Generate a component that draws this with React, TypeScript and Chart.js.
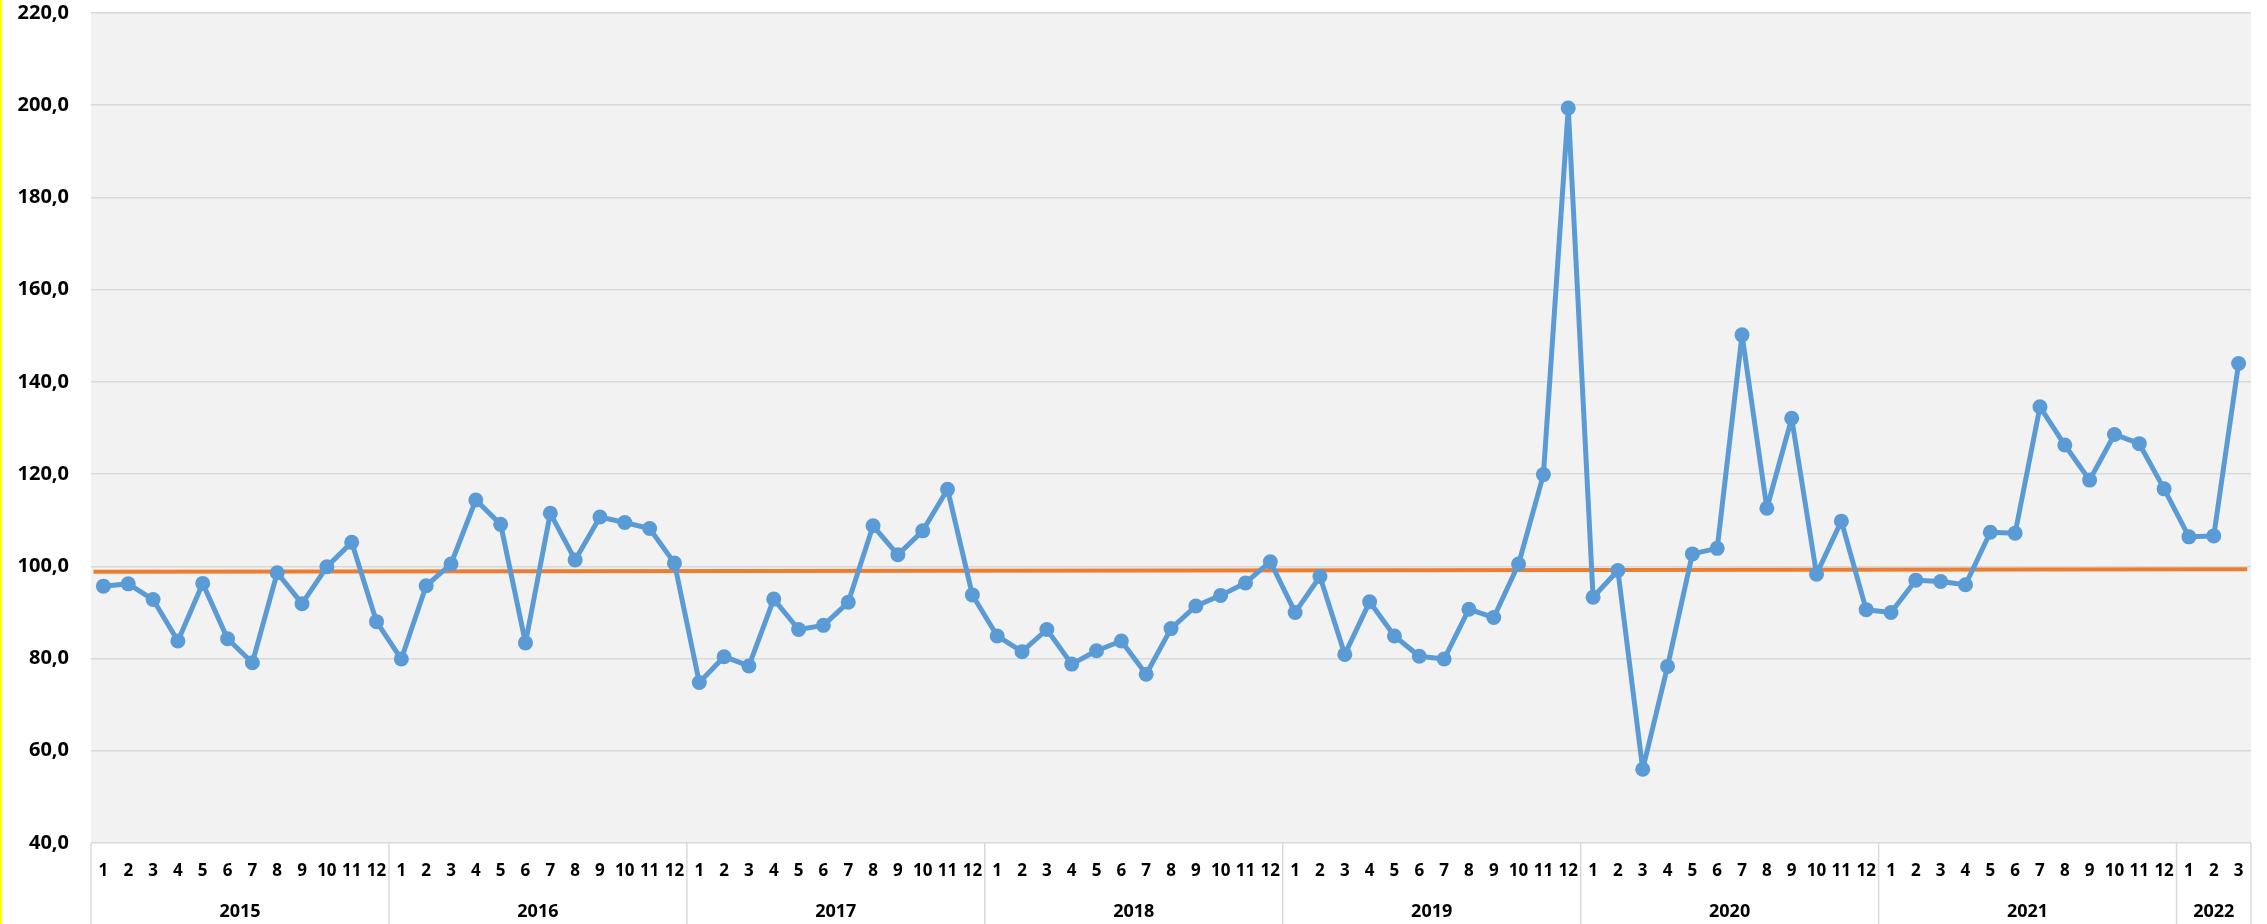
import React, { useEffect, useRef } from "react";
import { Chart, registerables } from "chart.js";

Chart.register(...registerables);

// ---- data ----
const years = ["2015", "2016", "2017", "2018", "2019", "2020", "2021", "2022"];
const monthsPerYear = [12, 12, 12, 12, 12, 12, 12, 3];
const monthLabels: string[] = monthsPerYear.flatMap((n) =>
  Array.from({ length: n }, (_, k) => String(k + 1))
);

const values2015 = [95.7, 96.2, 92.8, 83.8, 96.3, 84.3, 79.1, 98.6, 91.9, 99.9, 105.2, 88.0];
const values2016 = [79.9, 95.8, 100.5, 114.4, 109.1, 83.4, 111.5, 101.4, 110.7, 109.5, 108.2, 100.7];
const values2017 = [74.8, 80.4, 78.4, 92.9, 86.3, 87.2, 92.2, 108.8, 102.5, 107.7, 116.7, 93.8];
const values2018 = [84.9, 81.5, 86.3, 78.8, 81.7, 83.8, 76.6, 86.5, 91.4, 93.7, 96.4, 101.0];
const values2019 = [90.0, 97.8, 80.9, 92.3, 84.9, 80.5, 79.9, 90.7, 88.9, 100.5, 119.9, 199.4];
const values2020 = [93.3, 99.1, 56.0, 78.3, 102.7, 103.9, 150.2, 112.6, 132.1, 98.3, 109.8, 90.6];
const values2021 = [90.0, 97.0, 96.7, 96.0, 107.4, 107.2, 134.6, 126.3, 118.7, 128.6, 126.6, 116.8];
const values2022 = [106.4, 106.6, 144.0];

const seriesValues = [
  ...values2015, ...values2016, ...values2017, ...values2018,
  ...values2019, ...values2020, ...values2021, ...values2022,
];

// linear trend line (start / end) in category-index units
const trendX = [-0.4, 86.35];
const trendY = [98.8, 99.35];

const yMin = 40;
const yMax = 220;
const yStep = 20;

const FONT = "'Open Sans', Lato, 'DejaVu Sans', sans-serif";

export default function App() {
  const canvasRef = useRef<HTMLCanvasElement | null>(null);

  useEffect(() => {
    const canvas = canvasRef.current;
    if (!canvas) return;

    const bgPlugin = {
      id: "plotBg",
      beforeDraw(chart: any) {
        const { ctx, chartArea } = chart;
        ctx.save();
        ctx.fillStyle = "#FFFFFF";
        ctx.fillRect(0, 0, chart.width, chart.height);
        ctx.fillStyle = "#F2F2F2";
        ctx.fillRect(chartArea.left, chartArea.top, chartArea.right - chartArea.left, chartArea.bottom - chartArea.top);
        ctx.restore();
      },
    };

    const xLabelPlugin = {
      id: "xLabels",
      afterDraw(chart: any) {
        const { ctx, chartArea } = chart;
        const xs = chart.scales.x;
        const bottom = chartArea.bottom;
        const h = chart.height;
        ctx.save();
        ctx.strokeStyle = "#D9D9D9";
        ctx.lineWidth = 1.5;
        const bounds: number[] = [xs.left];
        let idx = 0;
        monthsPerYear.forEach((n, k) => {
          idx += n;
          if (k < monthsPerYear.length - 1) {
            bounds.push((xs.getPixelForValue(idx - 1) + xs.getPixelForValue(idx)) / 2);
          }
        });
        bounds.push(xs.right);
        bounds.forEach((bx) => {
          ctx.beginPath();
          ctx.moveTo(bx, bottom);
          ctx.lineTo(bx, h);
          ctx.stroke();
        });
        ctx.fillStyle = "#000000";
        ctx.textAlign = "center";
        ctx.textBaseline = "middle";
        ctx.font = `bold 17px ${FONT}`;
        monthLabels.forEach((l, i) => {
          ctx.fillText(l, xs.getPixelForValue(i), bottom + 28);
        });
        ctx.font = `bold 18px ${FONT}`;
        years.forEach((y, k) => {
          const cx = (bounds[k] + bounds[k + 1]) / 2;
          ctx.fillText(y, cx, bottom + 69);
        });
        ctx.restore();
      },
    };

    const chart = new Chart(canvas, {
      type: "line",
      data: {
        labels: monthLabels,
        datasets: [
          {
            label: "Index",
            data: seriesValues,
            borderColor: "#5B9BD5",
            backgroundColor: "#5B9BD5",
            pointBackgroundColor: "#5B9BD5",
            pointBorderColor: "#5B9BD5",
            pointBorderWidth: 0,
            pointRadius: 7.5,
            borderWidth: 5,
            borderJoinStyle: "round",
            borderCapStyle: "round",
            tension: 0,
            xAxisID: "x",
            clip: false as any,
          },
          {
            label: "Trend",
            data: trendX.map((x, i) => ({ x, y: trendY[i] })) as any,
            borderColor: "#ED7D31",
            backgroundColor: "#ED7D31",
            pointRadius: 0,
            borderWidth: 4,
            tension: 0,
            xAxisID: "xTrend",
          },
        ],
      },
      options: {
        animation: false,
        responsive: false,
        devicePixelRatio: 1,
        layout: { padding: { left: 0, right: 16, top: 13, bottom: 0 } },
        plugins: {
          legend: { display: false },
          tooltip: { enabled: false },
        },
        scales: {
          x: {
            type: "category",
            offset: true,
            ticks: { display: false },
            grid: { display: false, drawTicks: false },
            border: { display: false },
            afterFit(s: any) {
              s.height = 81;
            },
          },
          xTrend: {
            type: "linear",
            min: -0.5,
            max: monthLabels.length - 0.5,
            display: false,
          },
          y: {
            min: yMin,
            max: yMax,
            ticks: {
              stepSize: yStep,
              padding: 22,
              color: "#000000",
              font: { family: FONT, size: 20, weight: "bold" },
              callback: (v: any) => Number(v).toFixed(1).replace(".", ","),
            },
            grid: { color: "#D9D9D9", lineWidth: 1.5, drawTicks: false },
            border: { display: false },
            afterFit(s: any) {
              s.width = 91;
              s.paddingTop = 0;
              s.paddingBottom = 0;
            },
          },
        },
      } as any,
      plugins: [bgPlugin, xLabelPlugin],
    });

    return () => chart.destroy();
  }, []);

  return (
    <div style={{ position: "fixed", left: 0, top: 0, width: 2267, height: 924, background: "#FFFFFF" }}>
      <canvas ref={canvasRef} width={2267} height={924} style={{ display: "block" }} />
      <div style={{ position: "absolute", left: 0, top: 0, width: 2, height: 924, background: "#FFFF00" }} />
    </div>
  );
}
